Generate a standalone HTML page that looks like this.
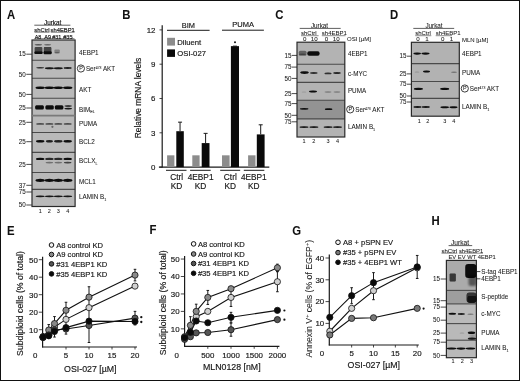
<!DOCTYPE html><html><head><meta charset="utf-8"><style>html,body{margin:0;padding:0;background:#fff;}body{width:520px;height:381px;overflow:hidden;font-family:"Liberation Sans", sans-serif;}svg{display:block;filter:grayscale(1) blur(0.4px)}text{stroke:#111;stroke-width:0.05px}text.h{stroke-width:0.16px}</style></head><body><svg width="520" height="381" viewBox="0 0 520 381" font-family='"Liberation Sans", sans-serif'>
<defs><filter id="b1" x="-50%" y="-100%" width="200%" height="300%"><feGaussianBlur stdDeviation="0.6"/></filter><filter id="b2" x="-50%" y="-100%" width="200%" height="300%"><feGaussianBlur stdDeviation="1.0"/></filter><filter id="b3" x="-50%" y="-100%" width="200%" height="300%"><feGaussianBlur stdDeviation="1.6"/></filter></defs>
<rect x="0" y="0" width="520" height="381" fill="#ffffff"/>
<text transform="translate(7.10 18.90) scale(0.93 1)" x="0" y="0" font-size="12.2" font-weight="bold" fill="#111">A</text>
<text transform="translate(122.30 18.80) scale(0.93 1)" x="0" y="0" font-size="12.2" font-weight="bold" fill="#111">B</text>
<text transform="translate(275.20 18.90) scale(0.93 1)" x="0" y="0" font-size="12.2" font-weight="bold" fill="#111">C</text>
<text transform="translate(390.00 18.90) scale(0.93 1)" x="0" y="0" font-size="12.2" font-weight="bold" fill="#111">D</text>
<text transform="translate(7.00 234.70) scale(0.93 1)" x="0" y="0" font-size="12.2" font-weight="bold" fill="#111">E</text>
<text transform="translate(149.40 234.40) scale(0.93 1)" x="0" y="0" font-size="12.2" font-weight="bold" fill="#111">F</text>
<text transform="translate(292.20 234.50) scale(0.93 1)" x="0" y="0" font-size="12.2" font-weight="bold" fill="#111">G</text>
<text transform="translate(431.40 224.80) scale(0.93 1)" x="0" y="0" font-size="12.2" font-weight="bold" fill="#111">H</text>
<text x="52.60" y="25.07" font-size="6.3" text-anchor="middle" fill="#1a1a1a" class="h">Jurkat</text>
<line x1="34.30" y1="25.20" x2="70.40" y2="25.20" stroke="#1a1a1a" stroke-width="0.7"/>
<text x="34.30" y="31.99" font-size="5.8" text-anchor="start" fill="#1a1a1a" class="h" textLength="15.30" lengthAdjust="spacingAndGlyphs">shCtrl</text>
<text x="50.60" y="31.99" font-size="5.8" text-anchor="start" fill="#1a1a1a" class="h" textLength="24.20" lengthAdjust="spacingAndGlyphs">sh4EBP1</text>
<line x1="34.50" y1="32.30" x2="49.50" y2="32.30" stroke="#1a1a1a" stroke-width="0.5"/>
<line x1="50.70" y1="32.30" x2="74.50" y2="32.30" stroke="#1a1a1a" stroke-width="0.5"/>
<text x="34.70" y="38.78" font-size="5.5" text-anchor="start" fill="#1a1a1a" class="h" textLength="6.60" lengthAdjust="spacingAndGlyphs">A8</text>
<text x="44.20" y="38.78" font-size="5.5" text-anchor="start" fill="#1a1a1a" class="h" textLength="6.90" lengthAdjust="spacingAndGlyphs">A9</text>
<text x="52.20" y="38.78" font-size="5.5" text-anchor="start" fill="#1a1a1a" class="h" textLength="9.10" lengthAdjust="spacingAndGlyphs">#31</text>
<text x="63.20" y="38.78" font-size="5.5" text-anchor="start" fill="#1a1a1a" class="h" textLength="9.40" lengthAdjust="spacingAndGlyphs">#35</text>
<line x1="34.50" y1="38.60" x2="74.50" y2="38.60" stroke="#1a1a1a" stroke-width="0.5"/>
<rect x="32.00" y="40.00" width="43.10" height="166.50" fill="#b9b9b9"/>
<line x1="32.00" y1="60.20" x2="75.10" y2="60.20" stroke="#4a4a4a" stroke-width="1.1"/>
<line x1="32.00" y1="78.20" x2="75.10" y2="78.20" stroke="#4a4a4a" stroke-width="1.1"/>
<line x1="32.00" y1="98.30" x2="75.10" y2="98.30" stroke="#4a4a4a" stroke-width="1.1"/>
<line x1="32.00" y1="115.50" x2="75.10" y2="115.50" stroke="#4a4a4a" stroke-width="1.1"/>
<line x1="32.00" y1="132.50" x2="75.10" y2="132.50" stroke="#4a4a4a" stroke-width="1.1"/>
<line x1="32.00" y1="152.40" x2="75.10" y2="152.40" stroke="#4a4a4a" stroke-width="1.1"/>
<line x1="32.00" y1="172.50" x2="75.10" y2="172.50" stroke="#4a4a4a" stroke-width="1.1"/>
<line x1="32.00" y1="189.40" x2="75.10" y2="189.40" stroke="#4a4a4a" stroke-width="1.1"/>
<rect x="32.00" y="40.00" width="43.10" height="166.50" fill="none" stroke="#2a2a2a" stroke-width="1.2"/>
<ellipse cx="38.40" cy="44.80" rx="3.75" ry="0.70" fill="#0a0a0a" fill-opacity="0.55" filter="url(#b1)"/>
<ellipse cx="47.60" cy="44.80" rx="3.50" ry="0.70" fill="#0a0a0a" fill-opacity="0.45" filter="url(#b1)"/>
<rect x="34.60" y="47.00" width="7.80" height="6.60" rx="1.0" fill="#0a0a0a" fill-opacity="0.62" filter="url(#b1)"/>
<rect x="34.40" y="51.40" width="8.20" height="2.60" rx="1.0" fill="#0a0a0a" fill-opacity="1.0" filter="url(#b1)"/>
<rect x="43.80" y="47.00" width="7.60" height="6.80" rx="1.0" fill="#0a0a0a" fill-opacity="0.7" filter="url(#b1)"/>
<rect x="43.60" y="51.20" width="8.00" height="3.00" rx="1.0" fill="#0a0a0a" fill-opacity="1.0" filter="url(#b1)"/>
<rect x="54.40" y="49.60" width="5.40" height="3.80" rx="1.0" fill="#0a0a0a" fill-opacity="0.3" filter="url(#b1)"/>
<ellipse cx="57.00" cy="52.60" rx="2.50" ry="0.60" fill="#0a0a0a" fill-opacity="0.3" filter="url(#b1)"/>
<ellipse cx="40.20" cy="67.80" rx="4.00" ry="0.80" fill="#0a0a0a" fill-opacity="0.75" filter="url(#b1)"/>
<ellipse cx="49.40" cy="68.20" rx="4.50" ry="1.00" fill="#0a0a0a" fill-opacity="0.95" filter="url(#b1)"/>
<ellipse cx="58.30" cy="68.20" rx="4.50" ry="1.00" fill="#0a0a0a" fill-opacity="0.95" filter="url(#b1)"/>
<ellipse cx="67.70" cy="68.00" rx="4.00" ry="0.90" fill="#0a0a0a" fill-opacity="0.9" filter="url(#b1)"/>
<ellipse cx="40.20" cy="87.80" rx="4.75" ry="1.20" fill="#0a0a0a" fill-opacity="1.0" filter="url(#b1)"/>
<ellipse cx="49.40" cy="87.80" rx="4.75" ry="1.20" fill="#0a0a0a" fill-opacity="1.0" filter="url(#b1)"/>
<ellipse cx="58.30" cy="87.80" rx="4.75" ry="1.20" fill="#0a0a0a" fill-opacity="1.0" filter="url(#b1)"/>
<ellipse cx="67.70" cy="87.80" rx="4.75" ry="1.20" fill="#0a0a0a" fill-opacity="1.0" filter="url(#b1)"/>
<rect x="35.10" y="105.20" width="8.80" height="4.20" rx="1.5" fill="#0a0a0a" fill-opacity="1.0" filter="url(#b1)"/>
<rect x="45.40" y="105.20" width="8.40" height="4.20" rx="1.5" fill="#0a0a0a" fill-opacity="1.0" filter="url(#b1)"/>
<rect x="54.80" y="105.20" width="8.60" height="4.20" rx="1.5" fill="#0a0a0a" fill-opacity="1.0" filter="url(#b1)"/>
<ellipse cx="68.20" cy="106.00" rx="3.75" ry="0.70" fill="#0a0a0a" fill-opacity="0.9" filter="url(#b1)"/>
<ellipse cx="68.20" cy="108.60" rx="3.75" ry="0.90" fill="#0a0a0a" fill-opacity="0.95" filter="url(#b1)"/>
<line x1="32.00" y1="115.60" x2="75.50" y2="115.60" stroke="#7a7a7a" stroke-width="1.6"/>
<ellipse cx="40.20" cy="123.90" rx="4.00" ry="0.90" fill="#0a0a0a" fill-opacity="0.6" filter="url(#b1)"/>
<ellipse cx="49.40" cy="123.90" rx="4.00" ry="0.90" fill="#0a0a0a" fill-opacity="0.6" filter="url(#b1)"/>
<ellipse cx="58.30" cy="123.90" rx="4.00" ry="0.90" fill="#0a0a0a" fill-opacity="0.6" filter="url(#b1)"/>
<ellipse cx="67.70" cy="123.90" rx="4.00" ry="0.90" fill="#0a0a0a" fill-opacity="0.6" filter="url(#b1)"/>
<ellipse cx="52.40" cy="126.80" rx="1.10" ry="1.10" fill="#0a0a0a" fill-opacity="0.45" filter="url(#b1)"/>
<ellipse cx="40.20" cy="141.30" rx="4.25" ry="1.20" fill="#0a0a0a" fill-opacity="1.0" filter="url(#b1)"/>
<ellipse cx="49.40" cy="141.30" rx="3.50" ry="1.20" fill="#0a0a0a" fill-opacity="0.9" filter="url(#b1)"/>
<ellipse cx="58.30" cy="141.30" rx="4.25" ry="1.20" fill="#0a0a0a" fill-opacity="0.9" filter="url(#b1)"/>
<ellipse cx="67.70" cy="141.30" rx="4.25" ry="1.20" fill="#0a0a0a" fill-opacity="1.0" filter="url(#b1)"/>
<ellipse cx="40.20" cy="158.90" rx="4.25" ry="1.20" fill="#0a0a0a" fill-opacity="1.0" filter="url(#b1)"/>
<ellipse cx="49.40" cy="158.90" rx="4.25" ry="1.20" fill="#0a0a0a" fill-opacity="0.85" filter="url(#b1)"/>
<ellipse cx="58.30" cy="158.90" rx="4.25" ry="1.20" fill="#0a0a0a" fill-opacity="0.85" filter="url(#b1)"/>
<ellipse cx="67.70" cy="158.90" rx="4.25" ry="1.20" fill="#0a0a0a" fill-opacity="1.0" filter="url(#b1)"/>
<ellipse cx="49.40" cy="162.60" rx="3.75" ry="0.90" fill="#0a0a0a" fill-opacity="0.4" filter="url(#b1)"/>
<ellipse cx="58.30" cy="162.60" rx="3.75" ry="0.90" fill="#0a0a0a" fill-opacity="0.4" filter="url(#b1)"/>
<ellipse cx="67.70" cy="162.60" rx="3.75" ry="0.90" fill="#0a0a0a" fill-opacity="0.7" filter="url(#b1)"/>
<ellipse cx="40.20" cy="180.30" rx="4.75" ry="1.60" fill="#0a0a0a" fill-opacity="1.0" filter="url(#b1)"/>
<ellipse cx="49.40" cy="180.30" rx="4.75" ry="1.60" fill="#0a0a0a" fill-opacity="1.0" filter="url(#b1)"/>
<ellipse cx="58.30" cy="180.30" rx="4.75" ry="1.60" fill="#0a0a0a" fill-opacity="1.0" filter="url(#b1)"/>
<ellipse cx="67.70" cy="180.30" rx="4.75" ry="1.60" fill="#0a0a0a" fill-opacity="1.0" filter="url(#b1)"/>
<ellipse cx="40.20" cy="196.30" rx="4.50" ry="0.90" fill="#0a0a0a" fill-opacity="0.95" filter="url(#b1)"/>
<ellipse cx="49.40" cy="196.30" rx="4.50" ry="0.90" fill="#0a0a0a" fill-opacity="0.95" filter="url(#b1)"/>
<ellipse cx="58.30" cy="196.30" rx="4.50" ry="0.90" fill="#0a0a0a" fill-opacity="0.95" filter="url(#b1)"/>
<ellipse cx="67.70" cy="196.30" rx="4.50" ry="0.90" fill="#0a0a0a" fill-opacity="0.95" filter="url(#b1)"/>
<text x="25.80" y="56.47" font-size="6.3" text-anchor="end" fill="#1a1a1a" >15</text>
<line x1="26.30" y1="54.20" x2="31.80" y2="54.20" stroke="#1a1a1a" stroke-width="0.8"/>
<text x="25.80" y="76.57" font-size="6.3" text-anchor="end" fill="#1a1a1a" >50</text>
<line x1="26.30" y1="74.30" x2="31.80" y2="74.30" stroke="#1a1a1a" stroke-width="0.8"/>
<text x="25.80" y="96.67" font-size="6.3" text-anchor="end" fill="#1a1a1a" >50</text>
<line x1="26.30" y1="94.40" x2="31.80" y2="94.40" stroke="#1a1a1a" stroke-width="0.8"/>
<text x="25.80" y="110.27" font-size="6.3" text-anchor="end" fill="#1a1a1a" >25</text>
<line x1="26.30" y1="108.00" x2="31.80" y2="108.00" stroke="#1a1a1a" stroke-width="0.8"/>
<text x="25.80" y="124.57" font-size="6.3" text-anchor="end" fill="#1a1a1a" >25</text>
<line x1="26.30" y1="122.30" x2="31.80" y2="122.30" stroke="#1a1a1a" stroke-width="0.8"/>
<text x="25.80" y="143.97" font-size="6.3" text-anchor="end" fill="#1a1a1a" >25</text>
<line x1="26.30" y1="141.70" x2="31.80" y2="141.70" stroke="#1a1a1a" stroke-width="0.8"/>
<text x="25.80" y="166.67" font-size="6.3" text-anchor="end" fill="#1a1a1a" >25</text>
<line x1="26.30" y1="164.40" x2="31.80" y2="164.40" stroke="#1a1a1a" stroke-width="0.8"/>
<text x="25.80" y="187.57" font-size="6.3" text-anchor="end" fill="#1a1a1a" >37</text>
<line x1="26.30" y1="185.30" x2="31.80" y2="185.30" stroke="#1a1a1a" stroke-width="0.8"/>
<text x="25.80" y="194.27" font-size="6.3" text-anchor="end" fill="#1a1a1a" >75</text>
<line x1="26.30" y1="192.00" x2="31.80" y2="192.00" stroke="#1a1a1a" stroke-width="0.8"/>
<text x="25.80" y="207.27" font-size="6.3" text-anchor="end" fill="#1a1a1a" >50</text>
<line x1="26.30" y1="205.00" x2="31.80" y2="205.00" stroke="#1a1a1a" stroke-width="0.8"/>
<text x="79.00" y="55.47" font-size="6.3" text-anchor="start" fill="#1a1a1a" >4EBP1</text>
<circle cx="80.90" cy="68.50" r="3.60" fill="none" stroke="#1a1a1a" stroke-width="0.85"/>
<text x="81.00" y="70.40" font-size="5.4" text-anchor="middle" fill="#1a1a1a">P</text>
<text x="85.90" y="70.77" font-size="6.3" fill="#1a1a1a">Ser<tspan font-size="3.47" dy="-2">473</tspan><tspan dy="2"> AKT</tspan></text>
<text x="79.00" y="92.27" font-size="6.3" text-anchor="start" fill="#1a1a1a" >AKT</text>
<text x="79.00" y="111.57" font-size="6.3" fill="#1a1a1a">BIM<tspan font-size="3.78" dy="1.8">EL</tspan></text>
<text x="79.00" y="126.27" font-size="6.3" text-anchor="start" fill="#1a1a1a" >PUMA</text>
<text x="79.00" y="143.77" font-size="6.3" text-anchor="start" fill="#1a1a1a" >BCL2</text>
<text x="79.00" y="163.07" font-size="6.3" fill="#1a1a1a">BCLX<tspan font-size="3.78" dy="1.8">L</tspan></text>
<text x="79.00" y="183.77" font-size="6.3" text-anchor="start" fill="#1a1a1a" >MCL1</text>
<text x="79.00" y="199.27" font-size="6.3" fill="#1a1a1a">LAMIN B<tspan font-size="3.78" dy="1.8">1</tspan></text>
<text x="40.20" y="212.78" font-size="5.5" text-anchor="middle" fill="#1a1a1a" >1</text>
<text x="49.40" y="212.78" font-size="5.5" text-anchor="middle" fill="#1a1a1a" >2</text>
<text x="58.30" y="212.78" font-size="5.5" text-anchor="middle" fill="#1a1a1a" >3</text>
<text x="67.70" y="212.78" font-size="5.5" text-anchor="middle" fill="#1a1a1a" >4</text>
<line x1="162.20" y1="25.20" x2="162.20" y2="167.60" stroke="#1a1a1a" stroke-width="1.2"/>
<line x1="158.90" y1="167.10" x2="269.30" y2="167.10" stroke="#1a1a1a" stroke-width="1.3"/>
<line x1="159.50" y1="167.10" x2="162.20" y2="167.10" stroke="#1a1a1a" stroke-width="0.8"/>
<text x="155.50" y="169.94" font-size="7.9" text-anchor="end" fill="#1a1a1a"  class="h">0</text>
<line x1="159.50" y1="132.80" x2="162.20" y2="132.80" stroke="#1a1a1a" stroke-width="0.8"/>
<text x="155.50" y="135.64" font-size="7.9" text-anchor="end" fill="#1a1a1a"  class="h">3</text>
<line x1="159.50" y1="98.50" x2="162.20" y2="98.50" stroke="#1a1a1a" stroke-width="0.8"/>
<text x="155.50" y="101.35" font-size="7.9" text-anchor="end" fill="#1a1a1a"  class="h">6</text>
<line x1="159.50" y1="64.20" x2="162.20" y2="64.20" stroke="#1a1a1a" stroke-width="0.8"/>
<text x="155.50" y="67.05" font-size="7.9" text-anchor="end" fill="#1a1a1a"  class="h">9</text>
<line x1="159.50" y1="29.90" x2="162.20" y2="29.90" stroke="#1a1a1a" stroke-width="0.8"/>
<text x="155.50" y="32.75" font-size="7.9" text-anchor="end" fill="#1a1a1a"  class="h">12</text>
<text x="188.40" y="27.66" font-size="7.4" text-anchor="middle" fill="#1a1a1a"  class="h">BIM</text>
<line x1="167.00" y1="30.30" x2="209.60" y2="30.30" stroke="#1a1a1a" stroke-width="1"/>
<text x="243.10" y="27.30" font-size="7.5" text-anchor="middle" fill="#1a1a1a"  class="h">PUMA</text>
<line x1="222.00" y1="30.20" x2="263.90" y2="30.20" stroke="#1a1a1a" stroke-width="1"/>
<rect x="167.10" y="37.80" width="7.90" height="7.80" fill="#8c8c8c"/>
<rect x="167.10" y="49.40" width="7.90" height="7.50" fill="#0a0a0a"/>
<text x="177.30" y="44.77" font-size="7.7" text-anchor="start" fill="#1a1a1a"  class="h">Diluent</text>
<text x="177.30" y="56.37" font-size="7.7" text-anchor="start" fill="#1a1a1a"  class="h">OSI-027</text>
<rect x="167.10" y="155.32" width="7.30" height="11.78" fill="#8c8c8c"/>
<rect x="192.30" y="155.32" width="7.30" height="11.78" fill="#8c8c8c"/>
<rect x="222.00" y="155.32" width="7.60" height="11.78" fill="#8c8c8c"/>
<rect x="248.10" y="155.32" width="7.40" height="11.78" fill="#8c8c8c"/>
<rect x="176.30" y="131.20" width="7.50" height="35.90" fill="#0a0a0a"/>
<line x1="180.05" y1="122.17" x2="180.05" y2="131.20" stroke="#1a1a1a" stroke-width="1"/>
<line x1="178.05" y1="122.17" x2="182.05" y2="122.17" stroke="#1a1a1a" stroke-width="1"/>
<rect x="201.70" y="143.09" width="7.80" height="24.01" fill="#0a0a0a"/>
<line x1="205.60" y1="133.37" x2="205.60" y2="143.09" stroke="#1a1a1a" stroke-width="1"/>
<line x1="203.60" y1="133.37" x2="207.60" y2="133.37" stroke="#1a1a1a" stroke-width="1"/>
<rect x="230.90" y="46.14" width="8.10" height="120.96" fill="#0a0a0a"/>
<line x1="234.95" y1="46.14" x2="234.95" y2="46.14" stroke="#1a1a1a" stroke-width="1"/>
<line x1="232.95" y1="46.14" x2="236.95" y2="46.14" stroke="#1a1a1a" stroke-width="1"/>
<rect x="256.80" y="134.40" width="7.80" height="32.70" fill="#0a0a0a"/>
<line x1="260.70" y1="124.80" x2="260.70" y2="134.40" stroke="#1a1a1a" stroke-width="1"/>
<line x1="258.70" y1="124.80" x2="262.70" y2="124.80" stroke="#1a1a1a" stroke-width="1"/>
<circle cx="235.0" cy="42.3" r="1.0" fill="#111"/>
<line x1="166.00" y1="170.30" x2="186.50" y2="170.30" stroke="#1a1a1a" stroke-width="1"/>
<line x1="190.10" y1="170.30" x2="210.70" y2="170.30" stroke="#1a1a1a" stroke-width="1"/>
<line x1="220.20" y1="170.30" x2="240.20" y2="170.30" stroke="#1a1a1a" stroke-width="1"/>
<line x1="243.80" y1="170.30" x2="264.30" y2="170.30" stroke="#1a1a1a" stroke-width="1"/>
<text x="176.60" y="180.19" font-size="8.3" text-anchor="middle" fill="#1a1a1a"  class="h">Ctrl</text>
<text x="176.60" y="189.39" font-size="8.3" text-anchor="middle" fill="#1a1a1a"  class="h">KD</text>
<text x="200.60" y="180.19" font-size="8.3" text-anchor="middle" fill="#1a1a1a"  class="h">4EBP1</text>
<text x="200.60" y="189.39" font-size="8.3" text-anchor="middle" fill="#1a1a1a"  class="h">KD</text>
<text x="230.30" y="180.19" font-size="8.3" text-anchor="middle" fill="#1a1a1a"  class="h">Ctrl</text>
<text x="230.30" y="189.39" font-size="8.3" text-anchor="middle" fill="#1a1a1a"  class="h">KD</text>
<text x="253.80" y="180.19" font-size="8.3" text-anchor="middle" fill="#1a1a1a"  class="h">4EBP1</text>
<text x="253.80" y="189.39" font-size="8.3" text-anchor="middle" fill="#1a1a1a"  class="h">KD</text>
<text x="137.80" y="101.02" font-size="8.4" text-anchor="middle" fill="#1a1a1a" class="h" transform="rotate(-90 137.80 98.00)">Relative mRNA levels</text>
<text x="319.50" y="28.17" font-size="6.3" text-anchor="middle" fill="#1a1a1a" >Jurkat</text>
<line x1="299.70" y1="28.40" x2="340.70" y2="28.40" stroke="#1a1a1a" stroke-width="0.7"/>
<text x="301.00" y="35.26" font-size="6.0" text-anchor="start" fill="#1a1a1a" >shCtrl</text>
<text x="321.80" y="35.26" font-size="6.0" text-anchor="start" fill="#1a1a1a" >sh4EBP1</text>
<line x1="301.00" y1="35.70" x2="318.60" y2="35.70" stroke="#1a1a1a" stroke-width="0.5"/>
<line x1="321.80" y1="35.70" x2="345.60" y2="35.70" stroke="#1a1a1a" stroke-width="0.5"/>
<text x="304.80" y="41.33" font-size="6.2" text-anchor="middle" fill="#1a1a1a" >0</text>
<text x="314.20" y="41.33" font-size="6.2" text-anchor="middle" fill="#1a1a1a" >10</text>
<text x="326.50" y="41.33" font-size="6.2" text-anchor="middle" fill="#1a1a1a" >0</text>
<text x="336.30" y="41.33" font-size="6.2" text-anchor="middle" fill="#1a1a1a" >10</text>
<text x="347.00" y="41.26" font-size="6.0" text-anchor="start" fill="#1a1a1a" >OSI [µM]</text>
<rect x="297.00" y="42.20" width="47.80" height="94.80" fill="#b3b3b3"/>
<rect x="297.00" y="100.20" width="47.80" height="18.70" fill="#939393"/>
<line x1="297.00" y1="64.30" x2="344.80" y2="64.30" stroke="#4a4a4a" stroke-width="1.1"/>
<line x1="297.00" y1="82.40" x2="344.80" y2="82.40" stroke="#4a4a4a" stroke-width="1.1"/>
<line x1="297.00" y1="100.20" x2="344.80" y2="100.20" stroke="#4a4a4a" stroke-width="1.1"/>
<line x1="297.00" y1="118.90" x2="344.80" y2="118.90" stroke="#4a4a4a" stroke-width="1.1"/>
<rect x="297.00" y="42.20" width="47.80" height="94.80" fill="none" stroke="#2a2a2a" stroke-width="1.2"/>
<rect x="298.80" y="50.80" width="7.70" height="5.00" rx="1.5" fill="#0a0a0a" fill-opacity="0.45" filter="url(#b1)"/>
<ellipse cx="302.50" cy="54.20" rx="3.50" ry="0.80" fill="#0a0a0a" fill-opacity="0.35" filter="url(#b1)"/>
<rect x="307.30" y="51.20" width="12.30" height="4.60" rx="2" fill="#0a0a0a" fill-opacity="1.0" filter="url(#b1)"/>
<ellipse cx="304.50" cy="72.60" rx="4.25" ry="1.30" fill="#0a0a0a" fill-opacity="1.0" filter="url(#b1)"/>
<ellipse cx="313.80" cy="73.00" rx="3.75" ry="0.90" fill="#0a0a0a" fill-opacity="0.75" filter="url(#b1)"/>
<ellipse cx="328.00" cy="73.40" rx="3.50" ry="0.90" fill="#0a0a0a" fill-opacity="0.8" filter="url(#b1)"/>
<ellipse cx="337.00" cy="73.00" rx="3.75" ry="1.00" fill="#0a0a0a" fill-opacity="0.85" filter="url(#b1)"/>
<ellipse cx="313.00" cy="91.50" rx="4.00" ry="1.10" fill="#0a0a0a" fill-opacity="1.0" filter="url(#b1)"/>
<ellipse cx="328.00" cy="92.00" rx="3.50" ry="0.80" fill="#0a0a0a" fill-opacity="0.3" filter="url(#b1)"/>
<ellipse cx="337.00" cy="92.00" rx="3.50" ry="0.80" fill="#0a0a0a" fill-opacity="0.3" filter="url(#b1)"/>
<ellipse cx="304.00" cy="92.00" rx="2.50" ry="0.50" fill="#0a0a0a" fill-opacity="0.15" filter="url(#b1)"/>
<ellipse cx="304.20" cy="108.80" rx="4.25" ry="0.90" fill="#0a0a0a" fill-opacity="1.0" filter="url(#b1)"/>
<ellipse cx="328.60" cy="109.20" rx="3.75" ry="0.90" fill="#0a0a0a" fill-opacity="1.0" filter="url(#b1)"/>
<ellipse cx="304.00" cy="127.10" rx="4.50" ry="0.90" fill="#0a0a0a" fill-opacity="0.95" filter="url(#b1)"/>
<ellipse cx="313.90" cy="127.10" rx="4.50" ry="0.90" fill="#0a0a0a" fill-opacity="0.95" filter="url(#b1)"/>
<ellipse cx="328.10" cy="127.10" rx="4.50" ry="0.90" fill="#0a0a0a" fill-opacity="0.95" filter="url(#b1)"/>
<ellipse cx="337.50" cy="127.10" rx="4.50" ry="0.90" fill="#0a0a0a" fill-opacity="0.95" filter="url(#b1)"/>
<text x="291.40" y="57.67" font-size="6.3" text-anchor="end" fill="#1a1a1a" >15</text>
<line x1="291.80" y1="55.40" x2="297.00" y2="55.40" stroke="#1a1a1a" stroke-width="0.8"/>
<text x="291.40" y="69.37" font-size="6.3" text-anchor="end" fill="#1a1a1a" >75</text>
<line x1="291.80" y1="67.10" x2="297.00" y2="67.10" stroke="#1a1a1a" stroke-width="0.8"/>
<text x="291.40" y="80.67" font-size="6.3" text-anchor="end" fill="#1a1a1a" >50</text>
<line x1="291.80" y1="78.40" x2="297.00" y2="78.40" stroke="#1a1a1a" stroke-width="0.8"/>
<text x="291.40" y="95.87" font-size="6.3" text-anchor="end" fill="#1a1a1a" >25</text>
<line x1="291.80" y1="93.60" x2="297.00" y2="93.60" stroke="#1a1a1a" stroke-width="0.8"/>
<text x="291.40" y="105.87" font-size="6.3" text-anchor="end" fill="#1a1a1a" >75</text>
<line x1="291.80" y1="103.60" x2="297.00" y2="103.60" stroke="#1a1a1a" stroke-width="0.8"/>
<text x="291.40" y="117.57" font-size="6.3" text-anchor="end" fill="#1a1a1a" >50</text>
<line x1="291.80" y1="115.30" x2="297.00" y2="115.30" stroke="#1a1a1a" stroke-width="0.8"/>
<text x="291.40" y="124.07" font-size="6.3" text-anchor="end" fill="#1a1a1a" >75</text>
<line x1="291.80" y1="121.80" x2="297.00" y2="121.80" stroke="#1a1a1a" stroke-width="0.8"/>
<text x="347.90" y="55.87" font-size="6.3" text-anchor="start" fill="#1a1a1a" >4EBP1</text>
<text x="347.90" y="75.87" font-size="6.3" text-anchor="start" fill="#1a1a1a" >c-MYC</text>
<text x="347.90" y="93.47" font-size="6.3" text-anchor="start" fill="#1a1a1a" >PUMA</text>
<circle cx="350.20" cy="109.40" r="3.60" fill="none" stroke="#1a1a1a" stroke-width="0.85"/>
<text x="350.30" y="111.30" font-size="5.4" text-anchor="middle" fill="#1a1a1a">P</text>
<text x="355.20" y="111.67" font-size="6.3" fill="#1a1a1a">Ser<tspan font-size="3.47" dy="-2">473</tspan><tspan dy="2"> AKT</tspan></text>
<text x="347.90" y="129.37" font-size="6.3" fill="#1a1a1a">LAMIN B<tspan font-size="3.78" dy="1.8">1</tspan></text>
<text x="304.00" y="143.28" font-size="5.5" text-anchor="middle" fill="#1a1a1a" >1</text>
<text x="313.90" y="143.28" font-size="5.5" text-anchor="middle" fill="#1a1a1a" >2</text>
<text x="328.10" y="143.28" font-size="5.5" text-anchor="middle" fill="#1a1a1a" >3</text>
<text x="337.50" y="143.28" font-size="5.5" text-anchor="middle" fill="#1a1a1a" >4</text>
<text x="434.00" y="27.97" font-size="6.3" text-anchor="middle" fill="#1a1a1a" >Jurkat</text>
<line x1="413.30" y1="28.40" x2="454.20" y2="28.40" stroke="#1a1a1a" stroke-width="0.7"/>
<text x="415.20" y="35.26" font-size="6.0" text-anchor="start" fill="#1a1a1a" >shCtrl</text>
<text x="435.70" y="35.26" font-size="6.0" text-anchor="start" fill="#1a1a1a" >sh4EBP1</text>
<line x1="415.20" y1="35.70" x2="431.30" y2="35.70" stroke="#1a1a1a" stroke-width="0.5"/>
<line x1="435.70" y1="35.70" x2="452.00" y2="35.70" stroke="#1a1a1a" stroke-width="0.5"/>
<text x="418.00" y="41.43" font-size="6.2" text-anchor="middle" fill="#1a1a1a" >0</text>
<text x="427.00" y="41.43" font-size="6.2" text-anchor="middle" fill="#1a1a1a" >1</text>
<text x="442.80" y="41.43" font-size="6.2" text-anchor="middle" fill="#1a1a1a" >0</text>
<text x="451.50" y="41.43" font-size="6.2" text-anchor="middle" fill="#1a1a1a" >1</text>
<text x="462.00" y="41.86" font-size="6.0" text-anchor="start" fill="#1a1a1a" >MLN [µM]</text>
<rect x="411.40" y="42.30" width="47.90" height="73.90" fill="#b2b2b2"/>
<line x1="411.40" y1="63.60" x2="459.30" y2="63.60" stroke="#4a4a4a" stroke-width="1.1"/>
<line x1="411.40" y1="81.50" x2="459.30" y2="81.50" stroke="#4a4a4a" stroke-width="1.1"/>
<line x1="411.40" y1="98.40" x2="459.30" y2="98.40" stroke="#4a4a4a" stroke-width="1.1"/>
<rect x="411.40" y="42.30" width="47.90" height="73.90" fill="none" stroke="#2a2a2a" stroke-width="1.2"/>
<ellipse cx="417.20" cy="53.60" rx="3.75" ry="1.10" fill="#0a0a0a" fill-opacity="1.0" filter="url(#b1)"/>
<ellipse cx="425.50" cy="53.60" rx="4.00" ry="1.10" fill="#0a0a0a" fill-opacity="1.0" filter="url(#b1)"/>
<ellipse cx="426.50" cy="71.60" rx="3.50" ry="1.00" fill="#0a0a0a" fill-opacity="1.0" filter="url(#b1)"/>
<ellipse cx="454.00" cy="72.20" rx="3.00" ry="0.70" fill="#0a0a0a" fill-opacity="0.35" filter="url(#b1)"/>
<ellipse cx="417.00" cy="72.00" rx="2.50" ry="0.50" fill="#0a0a0a" fill-opacity="0.2" filter="url(#b1)"/>
<ellipse cx="418.40" cy="88.90" rx="4.50" ry="1.10" fill="#0a0a0a" fill-opacity="1.0" filter="url(#b1)"/>
<ellipse cx="444.70" cy="88.90" rx="4.50" ry="1.10" fill="#0a0a0a" fill-opacity="1.0" filter="url(#b1)"/>
<ellipse cx="417.50" cy="107.00" rx="4.00" ry="0.90" fill="#0a0a0a" fill-opacity="0.95" filter="url(#b1)"/>
<ellipse cx="425.80" cy="107.00" rx="4.00" ry="0.90" fill="#0a0a0a" fill-opacity="0.95" filter="url(#b1)"/>
<ellipse cx="444.70" cy="107.30" rx="4.25" ry="1.00" fill="#0a0a0a" fill-opacity="1.0" filter="url(#b1)"/>
<ellipse cx="453.50" cy="107.30" rx="4.00" ry="1.00" fill="#0a0a0a" fill-opacity="1.0" filter="url(#b1)"/>
<text x="406.60" y="58.47" font-size="6.3" text-anchor="end" fill="#1a1a1a" >15</text>
<line x1="407.00" y1="56.20" x2="411.40" y2="56.20" stroke="#1a1a1a" stroke-width="0.8"/>
<text x="406.60" y="76.17" font-size="6.3" text-anchor="end" fill="#1a1a1a" >25</text>
<line x1="407.00" y1="73.90" x2="411.40" y2="73.90" stroke="#1a1a1a" stroke-width="0.8"/>
<text x="406.60" y="86.47" font-size="6.3" text-anchor="end" fill="#1a1a1a" >75</text>
<line x1="407.00" y1="84.20" x2="411.40" y2="84.20" stroke="#1a1a1a" stroke-width="0.8"/>
<text x="406.60" y="98.27" font-size="6.3" text-anchor="end" fill="#1a1a1a" >50</text>
<line x1="407.00" y1="96.00" x2="411.40" y2="96.00" stroke="#1a1a1a" stroke-width="0.8"/>
<text x="406.60" y="104.27" font-size="6.3" text-anchor="end" fill="#1a1a1a" >75</text>
<line x1="407.00" y1="102.00" x2="411.40" y2="102.00" stroke="#1a1a1a" stroke-width="0.8"/>
<text x="462.00" y="56.17" font-size="6.3" text-anchor="start" fill="#1a1a1a" >4EBP1</text>
<text x="462.00" y="74.97" font-size="6.3" text-anchor="start" fill="#1a1a1a" >PUMA</text>
<circle cx="464.80" cy="88.50" r="3.60" fill="none" stroke="#1a1a1a" stroke-width="0.85"/>
<text x="464.90" y="90.40" font-size="5.4" text-anchor="middle" fill="#1a1a1a">P</text>
<text x="469.80" y="90.77" font-size="6.3" fill="#1a1a1a">Ser<tspan font-size="3.47" dy="-2">473</tspan><tspan dy="2"> AKT</tspan></text>
<text x="462.00" y="109.27" font-size="6.3" fill="#1a1a1a">LAMIN B<tspan font-size="3.78" dy="1.8">1</tspan></text>
<text x="419.30" y="123.38" font-size="5.5" text-anchor="middle" fill="#1a1a1a" >1</text>
<text x="427.80" y="123.38" font-size="5.5" text-anchor="middle" fill="#1a1a1a" >2</text>
<text x="444.70" y="123.38" font-size="5.5" text-anchor="middle" fill="#1a1a1a" >3</text>
<text x="453.80" y="123.38" font-size="5.5" text-anchor="middle" fill="#1a1a1a" >4</text>
<line x1="42.60" y1="256.70" x2="42.60" y2="347.50" stroke="#1a1a1a" stroke-width="1.2"/>
<line x1="42.10" y1="347.00" x2="137.00" y2="347.00" stroke="#1a1a1a" stroke-width="1.2"/>
<line x1="38.80" y1="329.70" x2="42.60" y2="329.70" stroke="#1a1a1a" stroke-width="0.8"/>
<text x="37.80" y="332.54" font-size="7.9" text-anchor="end" fill="#1a1a1a"  class="h">10</text>
<line x1="38.80" y1="312.20" x2="42.60" y2="312.20" stroke="#1a1a1a" stroke-width="0.8"/>
<text x="37.80" y="315.04" font-size="7.9" text-anchor="end" fill="#1a1a1a"  class="h">20</text>
<line x1="38.80" y1="294.70" x2="42.60" y2="294.70" stroke="#1a1a1a" stroke-width="0.8"/>
<text x="37.80" y="297.54" font-size="7.9" text-anchor="end" fill="#1a1a1a"  class="h">30</text>
<line x1="38.80" y1="277.20" x2="42.60" y2="277.20" stroke="#1a1a1a" stroke-width="0.8"/>
<text x="37.80" y="280.04" font-size="7.9" text-anchor="end" fill="#1a1a1a"  class="h">40</text>
<line x1="38.80" y1="259.70" x2="42.60" y2="259.70" stroke="#1a1a1a" stroke-width="0.8"/>
<text x="37.80" y="262.54" font-size="7.9" text-anchor="end" fill="#1a1a1a"  class="h">50</text>
<text x="35.20" y="358.44" font-size="7.9" text-anchor="middle" fill="#1a1a1a"  class="h">0</text>
<line x1="66.00" y1="347.00" x2="66.00" y2="349.50" stroke="#1a1a1a" stroke-width="0.8"/>
<text x="66.00" y="358.44" font-size="7.9" text-anchor="middle" fill="#1a1a1a"  class="h">5</text>
<line x1="89.00" y1="347.00" x2="89.00" y2="349.50" stroke="#1a1a1a" stroke-width="0.8"/>
<text x="89.00" y="358.44" font-size="7.9" text-anchor="middle" fill="#1a1a1a"  class="h">10</text>
<line x1="112.00" y1="347.00" x2="112.00" y2="349.50" stroke="#1a1a1a" stroke-width="0.8"/>
<text x="112.00" y="358.44" font-size="7.9" text-anchor="middle" fill="#1a1a1a"  class="h">15</text>
<line x1="135.00" y1="347.00" x2="135.00" y2="349.50" stroke="#1a1a1a" stroke-width="0.8"/>
<text x="135.00" y="358.44" font-size="7.9" text-anchor="middle" fill="#1a1a1a"  class="h">20</text>
<text x="90.30" y="372.17" font-size="8.8" text-anchor="middle" fill="#1a1a1a"  class="h">OSI-027 [µM]</text>
<text x="20.30" y="306.63" font-size="8.7" text-anchor="middle" fill="#1a1a1a" class="h" transform="rotate(-90 20.30 303.50)">Subdiploid cells (% of total)</text>
<circle cx="51.5" cy="245.00" r="2.3" fill="#f2f2f2" stroke="#111" stroke-width="1.0"/>
<text x="56.20" y="247.74" font-size="7.6" text-anchor="start" fill="#1a1a1a"  class="h">A8 control KD</text>
<circle cx="51.5" cy="254.50" r="2.3" fill="#8a8a8a" stroke="#111" stroke-width="1.0"/>
<text x="56.20" y="257.24" font-size="7.6" text-anchor="start" fill="#1a1a1a"  class="h">A9 control KD</text>
<circle cx="51.5" cy="263.90" r="2.3" fill="#555555" stroke="#111" stroke-width="1.0"/>
<text x="56.20" y="266.64" font-size="7.6" text-anchor="start" fill="#1a1a1a"  class="h">#31 4EBP1 KD</text>
<circle cx="51.5" cy="273.90" r="2.3" fill="#0a0a0a" stroke="#111" stroke-width="1.0"/>
<text x="56.20" y="276.64" font-size="7.6" text-anchor="start" fill="#1a1a1a"  class="h">#35 4EBP1 KD</text>
<polyline points="43.00,337.05 48.75,334.95 54.50,327.07 66.00,319.38 89.00,307.65 135.00,286.12" fill="none" stroke="#111" stroke-width="1.1"/>
<polyline points="43.00,336.70 48.75,330.05 54.50,323.57 66.00,310.27 89.00,297.15 135.00,275.10" fill="none" stroke="#111" stroke-width="1.1"/>
<polyline points="43.00,337.57 48.75,334.95 54.50,330.05 66.00,329.00 89.00,325.50 135.00,318.15" fill="none" stroke="#111" stroke-width="1.1"/>
<polyline points="43.00,337.05 48.75,335.82 54.50,331.45 66.00,327.60 89.00,321.12 135.00,321.47" fill="none" stroke="#111" stroke-width="1.1"/>
<line x1="43.00" y1="333.70" x2="43.00" y2="339.70" stroke="#1a1a1a" stroke-width="1.0"/>
<line x1="41.70" y1="333.70" x2="44.30" y2="333.70" stroke="#1a1a1a" stroke-width="1.0"/>
<line x1="41.70" y1="339.70" x2="44.30" y2="339.70" stroke="#1a1a1a" stroke-width="1.0"/>
<line x1="48.75" y1="324.55" x2="48.75" y2="335.55" stroke="#1a1a1a" stroke-width="1.0"/>
<line x1="47.45" y1="324.55" x2="50.05" y2="324.55" stroke="#1a1a1a" stroke-width="1.0"/>
<line x1="47.45" y1="335.55" x2="50.05" y2="335.55" stroke="#1a1a1a" stroke-width="1.0"/>
<line x1="54.50" y1="316.57" x2="54.50" y2="330.57" stroke="#1a1a1a" stroke-width="1.0"/>
<line x1="53.20" y1="316.57" x2="55.80" y2="316.57" stroke="#1a1a1a" stroke-width="1.0"/>
<line x1="53.20" y1="330.57" x2="55.80" y2="330.57" stroke="#1a1a1a" stroke-width="1.0"/>
<line x1="66.00" y1="302.27" x2="66.00" y2="318.27" stroke="#1a1a1a" stroke-width="1.0"/>
<line x1="64.70" y1="302.27" x2="67.30" y2="302.27" stroke="#1a1a1a" stroke-width="1.0"/>
<line x1="64.70" y1="318.27" x2="67.30" y2="318.27" stroke="#1a1a1a" stroke-width="1.0"/>
<line x1="89.00" y1="286.75" x2="89.00" y2="307.55" stroke="#1a1a1a" stroke-width="1.0"/>
<line x1="87.70" y1="286.75" x2="90.30" y2="286.75" stroke="#1a1a1a" stroke-width="1.0"/>
<line x1="87.70" y1="307.55" x2="90.30" y2="307.55" stroke="#1a1a1a" stroke-width="1.0"/>
<line x1="135.00" y1="269.30" x2="135.00" y2="280.90" stroke="#1a1a1a" stroke-width="1.0"/>
<line x1="133.70" y1="269.30" x2="136.30" y2="269.30" stroke="#1a1a1a" stroke-width="1.0"/>
<line x1="133.70" y1="280.90" x2="136.30" y2="280.90" stroke="#1a1a1a" stroke-width="1.0"/>
<line x1="48.75" y1="331.95" x2="48.75" y2="337.95" stroke="#1a1a1a" stroke-width="1.0"/>
<line x1="47.45" y1="331.95" x2="50.05" y2="331.95" stroke="#1a1a1a" stroke-width="1.0"/>
<line x1="47.45" y1="337.95" x2="50.05" y2="337.95" stroke="#1a1a1a" stroke-width="1.0"/>
<line x1="54.50" y1="323.05" x2="54.50" y2="337.05" stroke="#1a1a1a" stroke-width="1.0"/>
<line x1="53.20" y1="323.05" x2="55.80" y2="323.05" stroke="#1a1a1a" stroke-width="1.0"/>
<line x1="53.20" y1="337.05" x2="55.80" y2="337.05" stroke="#1a1a1a" stroke-width="1.0"/>
<line x1="89.00" y1="308.50" x2="89.00" y2="342.50" stroke="#1a1a1a" stroke-width="1.0"/>
<line x1="87.70" y1="308.50" x2="90.30" y2="308.50" stroke="#1a1a1a" stroke-width="1.0"/>
<line x1="87.70" y1="342.50" x2="90.30" y2="342.50" stroke="#1a1a1a" stroke-width="1.0"/>
<line x1="135.00" y1="311.35" x2="135.00" y2="324.95" stroke="#1a1a1a" stroke-width="1.0"/>
<line x1="133.70" y1="311.35" x2="136.30" y2="311.35" stroke="#1a1a1a" stroke-width="1.0"/>
<line x1="133.70" y1="324.95" x2="136.30" y2="324.95" stroke="#1a1a1a" stroke-width="1.0"/>
<line x1="66.00" y1="321.10" x2="66.00" y2="334.10" stroke="#1a1a1a" stroke-width="1.0"/>
<line x1="64.70" y1="321.10" x2="67.30" y2="321.10" stroke="#1a1a1a" stroke-width="1.0"/>
<line x1="64.70" y1="334.10" x2="67.30" y2="334.10" stroke="#1a1a1a" stroke-width="1.0"/>
<circle cx="43.00" cy="337.05" r="3.10" fill="#d0d0d0" stroke="#111" stroke-width="0.8"/>
<circle cx="48.75" cy="334.95" r="3.10" fill="#d0d0d0" stroke="#111" stroke-width="0.8"/>
<circle cx="54.50" cy="327.07" r="3.10" fill="#d0d0d0" stroke="#111" stroke-width="0.8"/>
<circle cx="66.00" cy="319.38" r="3.10" fill="#d0d0d0" stroke="#111" stroke-width="0.8"/>
<circle cx="89.00" cy="307.65" r="3.10" fill="#d0d0d0" stroke="#111" stroke-width="0.8"/>
<circle cx="135.00" cy="286.12" r="3.10" fill="#d0d0d0" stroke="#111" stroke-width="0.8"/>
<circle cx="43.00" cy="336.70" r="3.10" fill="#8a8a8a" stroke="#111" stroke-width="0.8"/>
<circle cx="48.75" cy="330.05" r="3.10" fill="#8a8a8a" stroke="#111" stroke-width="0.8"/>
<circle cx="54.50" cy="323.57" r="3.10" fill="#8a8a8a" stroke="#111" stroke-width="0.8"/>
<circle cx="66.00" cy="310.27" r="3.10" fill="#8a8a8a" stroke="#111" stroke-width="0.8"/>
<circle cx="89.00" cy="297.15" r="3.10" fill="#8a8a8a" stroke="#111" stroke-width="0.8"/>
<circle cx="135.00" cy="275.10" r="3.10" fill="#8a8a8a" stroke="#111" stroke-width="0.8"/>
<circle cx="43.00" cy="337.57" r="3.10" fill="#555555" stroke="#111" stroke-width="0.8"/>
<circle cx="48.75" cy="334.95" r="3.10" fill="#555555" stroke="#111" stroke-width="0.8"/>
<circle cx="54.50" cy="330.05" r="3.10" fill="#555555" stroke="#111" stroke-width="0.8"/>
<circle cx="66.00" cy="329.00" r="3.10" fill="#555555" stroke="#111" stroke-width="0.8"/>
<circle cx="89.00" cy="325.50" r="3.10" fill="#555555" stroke="#111" stroke-width="0.8"/>
<circle cx="135.00" cy="318.15" r="3.10" fill="#555555" stroke="#111" stroke-width="0.8"/>
<circle cx="43.00" cy="337.05" r="3.10" fill="#0a0a0a" stroke="#111" stroke-width="0.8"/>
<circle cx="48.75" cy="335.82" r="3.10" fill="#0a0a0a" stroke="#111" stroke-width="0.8"/>
<circle cx="54.50" cy="331.45" r="3.10" fill="#0a0a0a" stroke="#111" stroke-width="0.8"/>
<circle cx="66.00" cy="327.60" r="3.10" fill="#0a0a0a" stroke="#111" stroke-width="0.8"/>
<circle cx="89.00" cy="321.12" r="3.10" fill="#0a0a0a" stroke="#111" stroke-width="0.8"/>
<circle cx="135.00" cy="321.47" r="3.10" fill="#0a0a0a" stroke="#111" stroke-width="0.8"/>
<circle cx="141.3" cy="317.2" r="1.15" fill="#111"/><circle cx="141.3" cy="322.0" r="1.15" fill="#111"/>
<line x1="184.60" y1="256.00" x2="184.60" y2="346.80" stroke="#1a1a1a" stroke-width="1.2"/>
<line x1="184.10" y1="346.30" x2="279.40" y2="346.30" stroke="#1a1a1a" stroke-width="1.2"/>
<line x1="180.80" y1="328.85" x2="184.60" y2="328.85" stroke="#1a1a1a" stroke-width="0.8"/>
<text x="179.60" y="331.69" font-size="7.9" text-anchor="end" fill="#1a1a1a"  class="h">10</text>
<line x1="180.80" y1="311.40" x2="184.60" y2="311.40" stroke="#1a1a1a" stroke-width="0.8"/>
<text x="179.60" y="314.24" font-size="7.9" text-anchor="end" fill="#1a1a1a"  class="h">20</text>
<line x1="180.80" y1="293.95" x2="184.60" y2="293.95" stroke="#1a1a1a" stroke-width="0.8"/>
<text x="179.60" y="296.79" font-size="7.9" text-anchor="end" fill="#1a1a1a"  class="h">30</text>
<line x1="180.80" y1="276.50" x2="184.60" y2="276.50" stroke="#1a1a1a" stroke-width="0.8"/>
<text x="179.60" y="279.34" font-size="7.9" text-anchor="end" fill="#1a1a1a"  class="h">40</text>
<line x1="180.80" y1="259.05" x2="184.60" y2="259.05" stroke="#1a1a1a" stroke-width="0.8"/>
<text x="179.60" y="261.89" font-size="7.9" text-anchor="end" fill="#1a1a1a"  class="h">50</text>
<text x="176.80" y="357.94" font-size="7.9" text-anchor="middle" fill="#1a1a1a"  class="h">0</text>
<line x1="207.80" y1="346.30" x2="207.80" y2="348.80" stroke="#1a1a1a" stroke-width="0.8"/>
<text x="207.80" y="357.94" font-size="7.9" text-anchor="middle" fill="#1a1a1a"  class="h">500</text>
<line x1="231.00" y1="346.30" x2="231.00" y2="348.80" stroke="#1a1a1a" stroke-width="0.8"/>
<text x="231.00" y="357.94" font-size="7.9" text-anchor="middle" fill="#1a1a1a"  class="h">1000</text>
<line x1="254.20" y1="346.30" x2="254.20" y2="348.80" stroke="#1a1a1a" stroke-width="0.8"/>
<text x="254.20" y="357.94" font-size="7.9" text-anchor="middle" fill="#1a1a1a"  class="h">1500</text>
<line x1="277.40" y1="346.30" x2="277.40" y2="348.80" stroke="#1a1a1a" stroke-width="0.8"/>
<text x="277.40" y="357.94" font-size="7.9" text-anchor="middle" fill="#1a1a1a"  class="h">2000</text>
<text x="231.80" y="369.97" font-size="8.8" text-anchor="middle" fill="#1a1a1a"  class="h">MLN0128 [nM]</text>
<text x="163.10" y="305.93" font-size="8.7" text-anchor="middle" fill="#1a1a1a" class="h" transform="rotate(-90 163.10 302.80)">Subdiploid cells (% of total)</text>
<circle cx="193.6" cy="243.90" r="2.3" fill="#f2f2f2" stroke="#111" stroke-width="1.0"/>
<text x="197.90" y="246.64" font-size="7.6" text-anchor="start" fill="#1a1a1a"  class="h">A8 control KD</text>
<circle cx="193.6" cy="254.00" r="2.3" fill="#8a8a8a" stroke="#111" stroke-width="1.0"/>
<text x="197.90" y="256.74" font-size="7.6" text-anchor="start" fill="#1a1a1a"  class="h">A9 control KD</text>
<circle cx="193.6" cy="263.50" r="2.3" fill="#555555" stroke="#111" stroke-width="1.0"/>
<text x="197.90" y="266.24" font-size="7.6" text-anchor="start" fill="#1a1a1a"  class="h">#31 4EBP1 KD</text>
<circle cx="193.6" cy="273.30" r="2.3" fill="#0a0a0a" stroke="#111" stroke-width="1.0"/>
<text x="197.90" y="276.04" font-size="7.6" text-anchor="start" fill="#1a1a1a"  class="h">#35 4EBP1 KD</text>
<polyline points="184.60,337.57 190.40,332.34 196.20,316.63 207.80,311.40 231.00,297.44 277.40,281.74" fill="none" stroke="#111" stroke-width="1.1"/>
<polyline points="184.60,336.70 190.40,325.36 196.20,311.40 207.80,297.44 231.00,288.72 277.40,267.77" fill="none" stroke="#111" stroke-width="1.1"/>
<polyline points="184.60,339.32 190.40,336.70 196.20,332.86 207.80,332.51 231.00,329.72 277.40,319.60" fill="none" stroke="#111" stroke-width="1.1"/>
<polyline points="184.60,337.57 190.40,332.34 196.20,321.00 207.80,322.74 231.00,317.33 277.40,310.35" fill="none" stroke="#111" stroke-width="1.1"/>
<line x1="231.00" y1="288.44" x2="231.00" y2="306.44" stroke="#1a1a1a" stroke-width="1.0"/>
<line x1="229.70" y1="288.44" x2="232.30" y2="288.44" stroke="#1a1a1a" stroke-width="1.0"/>
<line x1="229.70" y1="306.44" x2="232.30" y2="306.44" stroke="#1a1a1a" stroke-width="1.0"/>
<line x1="277.40" y1="271.74" x2="277.40" y2="291.74" stroke="#1a1a1a" stroke-width="1.0"/>
<line x1="276.10" y1="271.74" x2="278.70" y2="271.74" stroke="#1a1a1a" stroke-width="1.0"/>
<line x1="276.10" y1="291.74" x2="278.70" y2="291.74" stroke="#1a1a1a" stroke-width="1.0"/>
<line x1="190.40" y1="316.66" x2="190.40" y2="334.06" stroke="#1a1a1a" stroke-width="1.0"/>
<line x1="189.10" y1="316.66" x2="191.70" y2="316.66" stroke="#1a1a1a" stroke-width="1.0"/>
<line x1="189.10" y1="334.06" x2="191.70" y2="334.06" stroke="#1a1a1a" stroke-width="1.0"/>
<line x1="196.20" y1="304.20" x2="196.20" y2="318.60" stroke="#1a1a1a" stroke-width="1.0"/>
<line x1="194.90" y1="304.20" x2="197.50" y2="304.20" stroke="#1a1a1a" stroke-width="1.0"/>
<line x1="194.90" y1="318.60" x2="197.50" y2="318.60" stroke="#1a1a1a" stroke-width="1.0"/>
<line x1="207.80" y1="290.44" x2="207.80" y2="304.44" stroke="#1a1a1a" stroke-width="1.0"/>
<line x1="206.50" y1="290.44" x2="209.10" y2="290.44" stroke="#1a1a1a" stroke-width="1.0"/>
<line x1="206.50" y1="304.44" x2="209.10" y2="304.44" stroke="#1a1a1a" stroke-width="1.0"/>
<line x1="277.40" y1="264.17" x2="277.40" y2="271.38" stroke="#1a1a1a" stroke-width="1.0"/>
<line x1="276.10" y1="264.17" x2="278.70" y2="264.17" stroke="#1a1a1a" stroke-width="1.0"/>
<line x1="276.10" y1="271.38" x2="278.70" y2="271.38" stroke="#1a1a1a" stroke-width="1.0"/>
<line x1="231.00" y1="323.22" x2="231.00" y2="336.22" stroke="#1a1a1a" stroke-width="1.0"/>
<line x1="229.70" y1="323.22" x2="232.30" y2="323.22" stroke="#1a1a1a" stroke-width="1.0"/>
<line x1="229.70" y1="336.22" x2="232.30" y2="336.22" stroke="#1a1a1a" stroke-width="1.0"/>
<line x1="231.00" y1="312.33" x2="231.00" y2="322.33" stroke="#1a1a1a" stroke-width="1.0"/>
<line x1="229.70" y1="312.33" x2="232.30" y2="312.33" stroke="#1a1a1a" stroke-width="1.0"/>
<line x1="229.70" y1="322.33" x2="232.30" y2="322.33" stroke="#1a1a1a" stroke-width="1.0"/>
<circle cx="184.60" cy="337.57" r="3.10" fill="#d0d0d0" stroke="#111" stroke-width="0.8"/>
<circle cx="190.40" cy="332.34" r="3.10" fill="#d0d0d0" stroke="#111" stroke-width="0.8"/>
<circle cx="196.20" cy="316.63" r="3.10" fill="#d0d0d0" stroke="#111" stroke-width="0.8"/>
<circle cx="207.80" cy="311.40" r="3.10" fill="#d0d0d0" stroke="#111" stroke-width="0.8"/>
<circle cx="231.00" cy="297.44" r="3.10" fill="#d0d0d0" stroke="#111" stroke-width="0.8"/>
<circle cx="277.40" cy="281.74" r="3.10" fill="#d0d0d0" stroke="#111" stroke-width="0.8"/>
<circle cx="184.60" cy="336.70" r="3.10" fill="#8a8a8a" stroke="#111" stroke-width="0.8"/>
<circle cx="190.40" cy="325.36" r="3.10" fill="#8a8a8a" stroke="#111" stroke-width="0.8"/>
<circle cx="196.20" cy="311.40" r="3.10" fill="#8a8a8a" stroke="#111" stroke-width="0.8"/>
<circle cx="207.80" cy="297.44" r="3.10" fill="#8a8a8a" stroke="#111" stroke-width="0.8"/>
<circle cx="231.00" cy="288.72" r="3.10" fill="#8a8a8a" stroke="#111" stroke-width="0.8"/>
<circle cx="277.40" cy="267.77" r="3.10" fill="#8a8a8a" stroke="#111" stroke-width="0.8"/>
<circle cx="184.60" cy="339.32" r="3.10" fill="#555555" stroke="#111" stroke-width="0.8"/>
<circle cx="190.40" cy="336.70" r="3.10" fill="#555555" stroke="#111" stroke-width="0.8"/>
<circle cx="196.20" cy="332.86" r="3.10" fill="#555555" stroke="#111" stroke-width="0.8"/>
<circle cx="207.80" cy="332.51" r="3.10" fill="#555555" stroke="#111" stroke-width="0.8"/>
<circle cx="231.00" cy="329.72" r="3.10" fill="#555555" stroke="#111" stroke-width="0.8"/>
<circle cx="277.40" cy="319.60" r="3.10" fill="#555555" stroke="#111" stroke-width="0.8"/>
<circle cx="184.60" cy="337.57" r="3.10" fill="#0a0a0a" stroke="#111" stroke-width="0.8"/>
<circle cx="190.40" cy="332.34" r="3.10" fill="#0a0a0a" stroke="#111" stroke-width="0.8"/>
<circle cx="196.20" cy="321.00" r="3.10" fill="#0a0a0a" stroke="#111" stroke-width="0.8"/>
<circle cx="207.80" cy="322.74" r="3.10" fill="#0a0a0a" stroke="#111" stroke-width="0.8"/>
<circle cx="231.00" cy="317.33" r="3.10" fill="#0a0a0a" stroke="#111" stroke-width="0.8"/>
<circle cx="277.40" cy="310.35" r="3.10" fill="#0a0a0a" stroke="#111" stroke-width="0.8"/>
<circle cx="284.4" cy="310.5" r="1.1" fill="#111"/><circle cx="284.4" cy="319.7" r="1.1" fill="#111"/>
<line x1="329.30" y1="254.50" x2="329.30" y2="345.50" stroke="#1a1a1a" stroke-width="1.2"/>
<line x1="328.80" y1="345.00" x2="418.80" y2="345.00" stroke="#1a1a1a" stroke-width="1.2"/>
<line x1="325.50" y1="323.40" x2="329.30" y2="323.40" stroke="#1a1a1a" stroke-width="0.8"/>
<text x="324.20" y="326.24" font-size="7.9" text-anchor="end" fill="#1a1a1a"  class="h">10</text>
<line x1="325.50" y1="301.60" x2="329.30" y2="301.60" stroke="#1a1a1a" stroke-width="0.8"/>
<text x="324.20" y="304.44" font-size="7.9" text-anchor="end" fill="#1a1a1a"  class="h">20</text>
<line x1="325.50" y1="279.80" x2="329.30" y2="279.80" stroke="#1a1a1a" stroke-width="0.8"/>
<text x="324.20" y="282.64" font-size="7.9" text-anchor="end" fill="#1a1a1a"  class="h">30</text>
<line x1="325.50" y1="258.00" x2="329.30" y2="258.00" stroke="#1a1a1a" stroke-width="0.8"/>
<text x="324.20" y="260.84" font-size="7.9" text-anchor="end" fill="#1a1a1a"  class="h">40</text>
<text x="322.00" y="355.84" font-size="7.9" text-anchor="middle" fill="#1a1a1a"  class="h">0</text>
<line x1="351.65" y1="345.00" x2="351.65" y2="347.50" stroke="#1a1a1a" stroke-width="0.8"/>
<text x="351.65" y="355.84" font-size="7.9" text-anchor="middle" fill="#1a1a1a"  class="h">5</text>
<line x1="373.50" y1="345.00" x2="373.50" y2="347.50" stroke="#1a1a1a" stroke-width="0.8"/>
<text x="373.50" y="355.84" font-size="7.9" text-anchor="middle" fill="#1a1a1a"  class="h">10</text>
<line x1="395.35" y1="345.00" x2="395.35" y2="347.50" stroke="#1a1a1a" stroke-width="0.8"/>
<text x="395.35" y="355.84" font-size="7.9" text-anchor="middle" fill="#1a1a1a"  class="h">15</text>
<line x1="417.20" y1="345.00" x2="417.20" y2="347.50" stroke="#1a1a1a" stroke-width="0.8"/>
<text x="417.20" y="355.84" font-size="7.9" text-anchor="middle" fill="#1a1a1a"  class="h">20</text>
<text x="373.80" y="367.67" font-size="8.8" text-anchor="middle" fill="#1a1a1a"  class="h">OSI-027 [µM]</text>
<text x="308.6" y="301.83" font-size="8.7" text-anchor="middle" fill="#1a1a1a" transform="rotate(-90 308.6 298.7)">Annexin V<tspan font-size="5.5" dy="-3">+</tspan><tspan dy="3"> cells (% of EGFP</tspan><tspan font-size="5.5" dy="-3">+</tspan><tspan dy="3">)</tspan></text>
<circle cx="338.0" cy="242.30" r="2.3" fill="#f2f2f2" stroke="#111" stroke-width="1.0"/>
<text x="343.00" y="245.04" font-size="7.6" text-anchor="start" fill="#1a1a1a"  class="h">A8 + pSPN EV</text>
<circle cx="338.0" cy="252.60" r="2.3" fill="#7a7a7a" stroke="#111" stroke-width="1.0"/>
<text x="343.00" y="255.34" font-size="7.6" text-anchor="start" fill="#1a1a1a"  class="h">#35 + pSPN EV</text>
<circle cx="338.0" cy="262.30" r="2.3" fill="#0a0a0a" stroke="#111" stroke-width="1.0"/>
<text x="343.00" y="265.04" font-size="7.6" text-anchor="start" fill="#1a1a1a"  class="h">#35 + 4EBP1 WT</text>
<polyline points="329.80,331.25 351.65,308.36 373.50,290.70 417.20,267.81" fill="none" stroke="#111" stroke-width="1.1"/>
<polyline points="329.80,334.95 351.65,318.39 373.50,317.73 417.20,308.36" fill="none" stroke="#111" stroke-width="1.1"/>
<polyline points="329.80,317.30 351.65,295.71 373.50,282.63 417.20,266.94" fill="none" stroke="#111" stroke-width="1.1"/>
<line x1="373.50" y1="281.70" x2="373.50" y2="299.70" stroke="#1a1a1a" stroke-width="1.0"/>
<line x1="372.20" y1="281.70" x2="374.80" y2="281.70" stroke="#1a1a1a" stroke-width="1.0"/>
<line x1="372.20" y1="299.70" x2="374.80" y2="299.70" stroke="#1a1a1a" stroke-width="1.0"/>
<line x1="351.65" y1="287.71" x2="351.65" y2="303.71" stroke="#1a1a1a" stroke-width="1.0"/>
<line x1="350.35" y1="287.71" x2="352.95" y2="287.71" stroke="#1a1a1a" stroke-width="1.0"/>
<line x1="350.35" y1="303.71" x2="352.95" y2="303.71" stroke="#1a1a1a" stroke-width="1.0"/>
<line x1="373.50" y1="272.63" x2="373.50" y2="292.63" stroke="#1a1a1a" stroke-width="1.0"/>
<line x1="372.20" y1="272.63" x2="374.80" y2="272.63" stroke="#1a1a1a" stroke-width="1.0"/>
<line x1="372.20" y1="292.63" x2="374.80" y2="292.63" stroke="#1a1a1a" stroke-width="1.0"/>
<line x1="417.20" y1="255.44" x2="417.20" y2="278.44" stroke="#1a1a1a" stroke-width="1.0"/>
<line x1="415.90" y1="255.44" x2="418.50" y2="255.44" stroke="#1a1a1a" stroke-width="1.0"/>
<line x1="415.90" y1="278.44" x2="418.50" y2="278.44" stroke="#1a1a1a" stroke-width="1.0"/>
<circle cx="329.80" cy="331.25" r="3.10" fill="#d0d0d0" stroke="#111" stroke-width="0.8"/>
<circle cx="351.65" cy="308.36" r="3.10" fill="#d0d0d0" stroke="#111" stroke-width="0.8"/>
<circle cx="373.50" cy="290.70" r="3.10" fill="#d0d0d0" stroke="#111" stroke-width="0.8"/>
<circle cx="417.20" cy="267.81" r="3.10" fill="#d0d0d0" stroke="#111" stroke-width="0.8"/>
<circle cx="329.80" cy="334.95" r="3.10" fill="#7a7a7a" stroke="#111" stroke-width="0.8"/>
<circle cx="351.65" cy="318.39" r="3.10" fill="#7a7a7a" stroke="#111" stroke-width="0.8"/>
<circle cx="373.50" cy="317.73" r="3.10" fill="#7a7a7a" stroke="#111" stroke-width="0.8"/>
<circle cx="417.20" cy="308.36" r="3.10" fill="#7a7a7a" stroke="#111" stroke-width="0.8"/>
<circle cx="329.80" cy="317.30" r="3.10" fill="#0a0a0a" stroke="#111" stroke-width="0.8"/>
<circle cx="351.65" cy="295.71" r="3.10" fill="#0a0a0a" stroke="#111" stroke-width="0.8"/>
<circle cx="373.50" cy="282.63" r="3.10" fill="#0a0a0a" stroke="#111" stroke-width="0.8"/>
<circle cx="417.20" cy="266.94" r="3.10" fill="#0a0a0a" stroke="#111" stroke-width="0.8"/>
<circle cx="423.6" cy="308.6" r="1.1" fill="#111"/>
<text x="460.00" y="245.08" font-size="6.6" text-anchor="middle" fill="#1a1a1a"  textLength="18.00" lengthAdjust="spacingAndGlyphs">Jurkat</text>
<line x1="448.60" y1="245.60" x2="472.20" y2="245.60" stroke="#1a1a1a" stroke-width="0.7"/>
<text x="441.40" y="252.56" font-size="6.0" text-anchor="start" fill="#1a1a1a"  textLength="15.80" lengthAdjust="spacingAndGlyphs">shCtrl</text>
<text x="458.90" y="252.56" font-size="6.0" text-anchor="start" fill="#1a1a1a"  textLength="24.40" lengthAdjust="spacingAndGlyphs">sh4EBP1</text>
<line x1="441.50" y1="253.20" x2="457.30" y2="253.20" stroke="#1a1a1a" stroke-width="0.5"/>
<line x1="458.90" y1="253.20" x2="483.00" y2="253.20" stroke="#1a1a1a" stroke-width="0.5"/>
<text x="448.50" y="259.39" font-size="5.8" text-anchor="start" fill="#1a1a1a" >EV EV WT 4EBP1</text>
<rect x="446.40" y="260.40" width="30.00" height="97.30" fill="#b9b9b9"/>
<rect x="446.40" y="260.40" width="30.00" height="30.00" fill="#ababab"/>
<rect x="446.40" y="290.40" width="30.00" height="13.50" fill="#9e9e9e"/>
<rect x="446.40" y="303.90" width="30.00" height="19.70" fill="#bababa"/>
<line x1="446.40" y1="290.40" x2="476.40" y2="290.40" stroke="#4a4a4a" stroke-width="1.1"/>
<line x1="446.40" y1="303.90" x2="476.40" y2="303.90" stroke="#4a4a4a" stroke-width="1.1"/>
<line x1="446.40" y1="323.60" x2="476.40" y2="323.60" stroke="#4a4a4a" stroke-width="1.1"/>
<line x1="446.40" y1="340.20" x2="476.40" y2="340.20" stroke="#4a4a4a" stroke-width="1.1"/>
<rect x="446.40" y="260.40" width="30.00" height="97.30" fill="none" stroke="#2a2a2a" stroke-width="1.2"/>
<rect x="449.60" y="273.60" width="6.20" height="7.80" rx="1.0" fill="#0a0a0a" fill-opacity="0.75" filter="url(#b1)"/>
<rect x="465.20" y="264.00" width="11.20" height="14.00" rx="3" fill="#0a0a0a" fill-opacity="1.0" filter="url(#b1)"/>
<rect x="468.50" y="275.00" width="7.90" height="11.00" rx="2" fill="#0a0a0a" fill-opacity="0.5" filter="url(#b2)"/>
<rect x="466.50" y="292.50" width="9.90" height="10.30" rx="3" fill="#0a0a0a" fill-opacity="0.75" filter="url(#b1)"/>
<rect x="467.50" y="296.00" width="8.90" height="6.80" rx="2" fill="#0a0a0a" fill-opacity="0.9" filter="url(#b1)"/>
<ellipse cx="452.30" cy="313.80" rx="3.75" ry="1.00" fill="#0a0a0a" fill-opacity="1.0" filter="url(#b1)"/>
<ellipse cx="461.30" cy="314.00" rx="3.50" ry="0.90" fill="#0a0a0a" fill-opacity="0.9" filter="url(#b1)"/>
<ellipse cx="470.50" cy="314.20" rx="3.25" ry="0.70" fill="#0a0a0a" fill-opacity="0.35" filter="url(#b1)"/>
<ellipse cx="471.50" cy="332.80" rx="3.75" ry="1.30" fill="#0a0a0a" fill-opacity="1.0" filter="url(#b1)"/>
<ellipse cx="462.00" cy="333.00" rx="2.50" ry="0.60" fill="#0a0a0a" fill-opacity="0.2" filter="url(#b1)"/>
<ellipse cx="472.00" cy="338.60" rx="4.25" ry="1.20" fill="#0a0a0a" fill-opacity="0.95" filter="url(#b1)"/>
<ellipse cx="472.50" cy="336.00" rx="3.00" ry="1.25" fill="#0a0a0a" fill-opacity="0.3" filter="url(#b2)"/>
<ellipse cx="451.50" cy="348.50" rx="4.75" ry="1.10" fill="#0a0a0a" fill-opacity="1.0" filter="url(#b1)"/>
<ellipse cx="461.00" cy="348.60" rx="4.50" ry="1.10" fill="#0a0a0a" fill-opacity="1.0" filter="url(#b1)"/>
<ellipse cx="470.50" cy="348.50" rx="4.75" ry="1.10" fill="#0a0a0a" fill-opacity="1.0" filter="url(#b1)"/>
<text x="440.00" y="281.27" font-size="6.3" text-anchor="end" fill="#1a1a1a" >15</text>
<line x1="440.60" y1="279.00" x2="446.40" y2="279.00" stroke="#1a1a1a" stroke-width="0.8"/>
<text x="440.00" y="302.97" font-size="6.3" text-anchor="end" fill="#1a1a1a" >15</text>
<line x1="440.60" y1="300.70" x2="446.40" y2="300.70" stroke="#1a1a1a" stroke-width="0.8"/>
<text x="440.00" y="309.37" font-size="6.3" text-anchor="end" fill="#1a1a1a" >75</text>
<line x1="440.60" y1="307.10" x2="446.40" y2="307.10" stroke="#1a1a1a" stroke-width="0.8"/>
<text x="440.00" y="322.47" font-size="6.3" text-anchor="end" fill="#1a1a1a" >50</text>
<line x1="440.60" y1="320.20" x2="446.40" y2="320.20" stroke="#1a1a1a" stroke-width="0.8"/>
<text x="440.00" y="335.37" font-size="6.3" text-anchor="end" fill="#1a1a1a" >25</text>
<line x1="440.60" y1="333.10" x2="446.40" y2="333.10" stroke="#1a1a1a" stroke-width="0.8"/>
<text x="440.00" y="344.47" font-size="6.3" text-anchor="end" fill="#1a1a1a" >75</text>
<line x1="440.60" y1="342.20" x2="446.40" y2="342.20" stroke="#1a1a1a" stroke-width="0.8"/>
<text x="440.00" y="357.67" font-size="6.3" text-anchor="end" fill="#1a1a1a" >50</text>
<line x1="440.60" y1="355.40" x2="446.40" y2="355.40" stroke="#1a1a1a" stroke-width="0.8"/>
<line x1="476.80" y1="271.60" x2="480.40" y2="271.60" stroke="#1a1a1a" stroke-width="0.8"/>
<line x1="476.80" y1="278.80" x2="480.40" y2="278.80" stroke="#1a1a1a" stroke-width="0.8"/>
<text x="481.20" y="273.87" font-size="6.3" text-anchor="start" fill="#1a1a1a" >S-tag 4EBP1</text>
<text x="481.20" y="281.07" font-size="6.3" text-anchor="start" fill="#1a1a1a" >4EBP1</text>
<text x="481.20" y="299.27" font-size="6.3" text-anchor="start" fill="#1a1a1a" >S-peptide</text>
<text x="481.20" y="315.77" font-size="6.3" text-anchor="start" fill="#1a1a1a" >c-MYC</text>
<text x="481.20" y="335.27" font-size="6.3" text-anchor="start" fill="#1a1a1a" >PUMA</text>
<text x="481.20" y="349.97" font-size="6.3" fill="#1a1a1a">LAMIN B<tspan font-size="3.78" dy="1.8">1</tspan></text>
<text x="453.00" y="363.48" font-size="5.5" text-anchor="middle" fill="#1a1a1a" >1</text>
<text x="462.30" y="363.48" font-size="5.5" text-anchor="middle" fill="#1a1a1a" >2</text>
<text x="471.50" y="363.48" font-size="5.5" text-anchor="middle" fill="#1a1a1a" >3</text>
<rect x="0.5" y="0.5" width="519" height="380" fill="none" stroke="#111" stroke-width="1"/>
</svg></body></html>
